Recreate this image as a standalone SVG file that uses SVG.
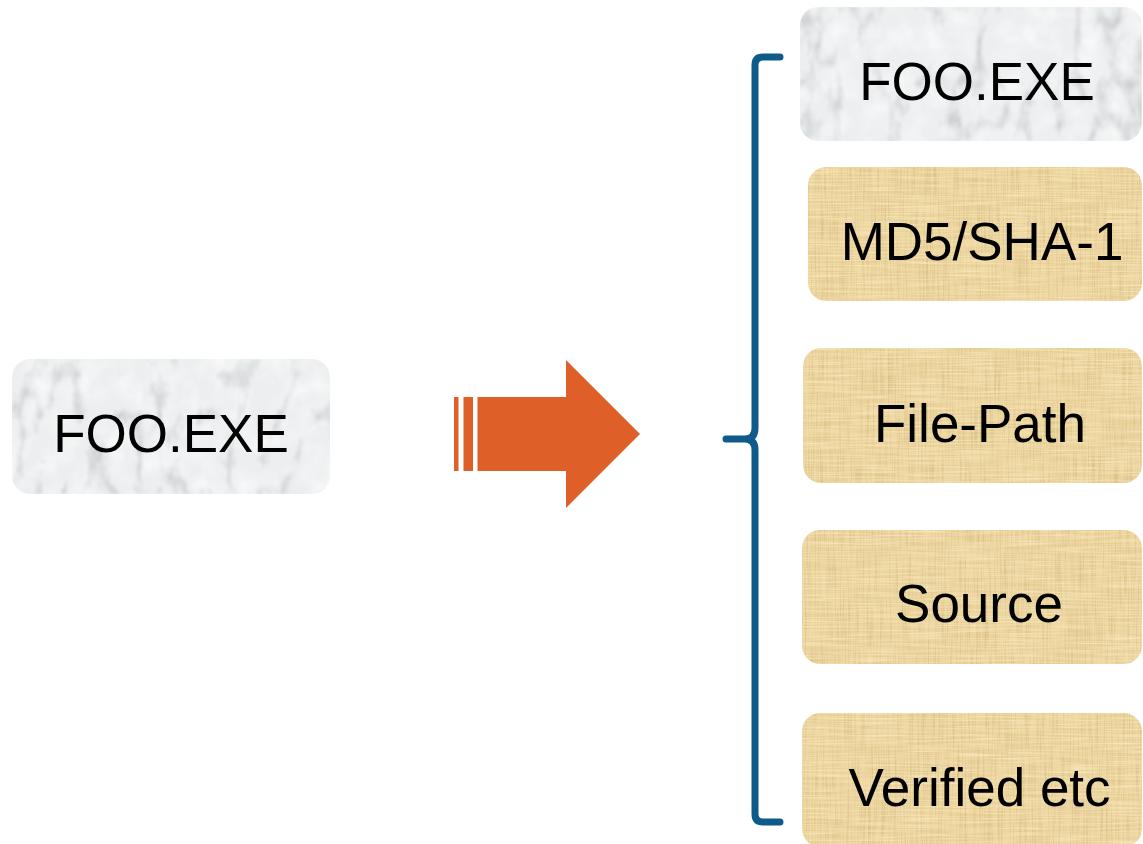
<svg xmlns="http://www.w3.org/2000/svg" width="1143" height="844" viewBox="0 0 1143 844">
  <style>
    .lbl { font-family: "Liberation Sans", Arial, sans-serif; font-size: 53px; fill: #000; text-anchor: middle; }
    .marble { fill: #eceeef; filter: url(#marbleTex); }
    .papyrus { fill: #ebd49e; filter: url(#papyrusTex); }
    .arrow { fill: #de5f27; }
    .brace { fill: none; stroke: #0e5a8a; stroke-width: 7; stroke-linecap: round; stroke-linejoin: round; }
  </style>
  <defs>
    <filter id="marbleTex" x="0" y="0" width="1" height="1" color-interpolation-filters="sRGB">
      <feTurbulence type="turbulence" baseFrequency="0.025 0.012" numOctaves="5" seed="11" result="t"/>
      <feColorMatrix in="t" type="matrix" values="0 0 0 0 0.6  0 0 0 0 0.62  0 0 0 0 0.64  -1.6 0 0 0 0.45" result="veins"/>
      <feGaussianBlur in="veins" stdDeviation="0.8" result="vb"/>
      <feTurbulence type="fractalNoise" baseFrequency="0.04" numOctaves="3" seed="2" result="f"/>
      <feColorMatrix in="f" type="matrix" values="0 0 0 0 1  0 0 0 0 1  0 0 0 0 1  1.2 0 0 0 -0.45" result="white"/>
      <feMerge result="m"><feMergeNode in="SourceGraphic"/><feMergeNode in="vb"/><feMergeNode in="white"/></feMerge>
      <feComposite in="m" in2="SourceGraphic" operator="in"/>
    </filter>
    <filter id="papyrusTex" x="0" y="0" width="1" height="1" color-interpolation-filters="sRGB">
      <feTurbulence type="fractalNoise" baseFrequency="0.6 0.02" numOctaves="2" seed="3" result="a"/>
      <feTurbulence type="fractalNoise" baseFrequency="0.02 0.6" numOctaves="2" seed="5" result="b"/>
      <feColorMatrix in="a" type="matrix" values="0 0 0 0 0.8  0 0 0 0 0.67  0 0 0 0 0.42  1.2 0 0 0 -0.5" result="ac"/>
      <feColorMatrix in="b" type="matrix" values="0 0 0 0 0.99  0 0 0 0 0.93  0 0 0 0 0.76  1.4 0 0 0 -0.5" result="bc"/>
      <feMerge result="m"><feMergeNode in="SourceGraphic"/><feMergeNode in="ac"/><feMergeNode in="bc"/></feMerge>
      <feComposite in="m" in2="SourceGraphic" operator="in"/>
    </filter>
  </defs>

  <g id="connectors">
    <g id="big-arrow">
      <rect class="arrow" x="454" y="397" width="4.5" height="74"/>
      <rect class="arrow" x="463.5" y="397" width="9.5" height="74"/>
      <polygon class="arrow" points="477.5,397 566,397 566,360 640,434 566,508 566,471 477.5,471"/>
    </g>
    <path id="bracket" class="brace" d="M780,57 H763 Q755,57 755,65 V428 Q755,439 745,439 H726 M745,439 Q755,439 755,450 V814 Q755,822 763,822 H780"/>
  </g>

  <g id="node-source">
    <rect class="marble" x="12" y="359" width="318" height="135" rx="18"/>
    <text class="lbl" x="171" y="452">FOO.EXE</text>
  </g>

  <g id="node-name">
    <rect class="marble" x="800" y="7" width="342" height="134" rx="18"/>
    <text class="lbl" x="977" y="100">FOO.EXE</text>
  </g>
  <g id="node-hash">
    <rect class="papyrus" x="808" y="167" width="334" height="134" rx="18"/>
    <text class="lbl" x="982" y="260">MD5/SHA-1</text>
  </g>
  <g id="node-path">
    <rect class="papyrus" x="803" y="348" width="339" height="135" rx="18"/>
    <text class="lbl" x="980" y="442">File-Path</text>
  </g>
  <g id="node-origin">
    <rect class="papyrus" x="802" y="530" width="340" height="134" rx="18"/>
    <text class="lbl" x="979" y="622">Source</text>
  </g>
  <g id="node-verified">
    <rect class="papyrus" x="802" y="713" width="340" height="134" rx="18"/>
    <text class="lbl" x="979.5" y="806">Verified etc</text>
  </g>
</svg>
